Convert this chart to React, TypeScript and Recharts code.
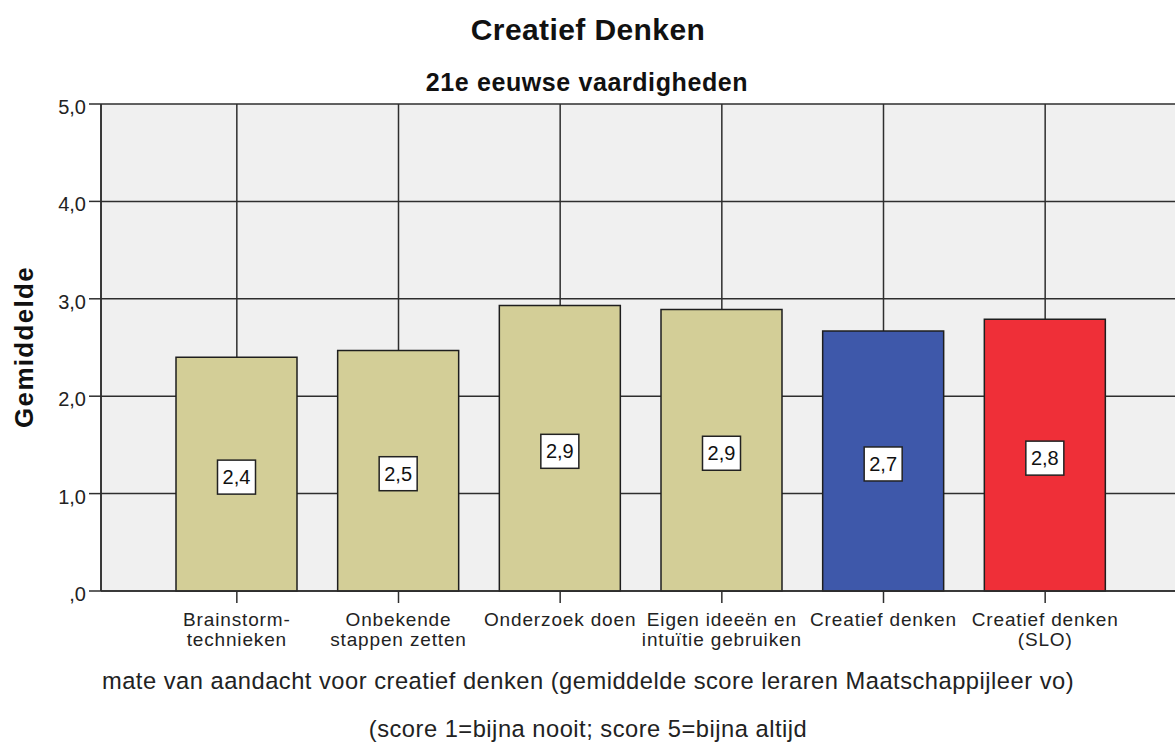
import React from 'react';
import { BarChart, Bar, Cell, XAxis, YAxis, CartesianGrid, LabelList } from 'recharts';

const categories = [
  'Brainstorm-technieken',
  'Onbekende stappen zetten',
  'Onderzoek doen',
  'Eigen ideeën en intuïtie gebruiken',
  'Creatief denken',
  'Creatief denken (SLO)',
];
const tickLines = [
  ['Brainstorm-', 'technieken'],
  ['Onbekende', 'stappen zetten'],
  ['Onderzoek doen'],
  ['Eigen ideeën en', 'intuïtie gebruiken'],
  ['Creatief denken'],
  ['Creatief denken', '(SLO)'],
];
const means = [2.4, 2.47, 2.93, 2.89, 2.67, 2.79];
const barColors = ['#d3ce97', '#d3ce97', '#d3ce97', '#d3ce97', '#3e58aa', '#ef2f38'];
const yTicks = [0, 1, 2, 3, 4, 5];
const yTickLabels = [',0', '1,0', '2,0', '3,0', '4,0', '5,0'];

const FONT = '"Liberation Sans", Arial, sans-serif';
const LINE = '#2e2e2e';

const data = categories.map((name, i) => ({ name, value: means[i] }));

const fmt = (v: number) => v.toFixed(1).replace('.', ',');

const XTick = (props: any) => {
  const { x, y, payload } = props;
  const idx = categories.indexOf(payload.value);
  const lines = tickLines[idx] || [payload.value];
  return (
    <g transform={`translate(${x},${y})`}>
      {lines.map((l, i) => (
        <text key={i} x={0} y={21 + i * 19.5} textAnchor="middle" fontSize={19}
          letterSpacing={0.85} fill="#222" fontFamily={FONT}>{l}</text>
      ))}
    </g>
  );
};

const YTick = (props: any) => {
  const { x, y, payload } = props;
  const idx = yTicks.indexOf(payload.value);
  return (
    <text x={x} y={y + 10} textAnchor="end" fontSize={20} fill="#222" fontFamily={FONT}>
      {yTickLabels[idx]}
    </text>
  );
};

const ValueBox = (props: any) => {
  const { x, y, width, height, value } = props;
  const cx = x + width / 2;
  const cy = y + height / 2 + 3;
  return (
    <g>
      <rect x={cx - 19} y={cy - 17} width={38} height={34} fill="#fff" stroke="#222" strokeWidth={1.5} />
      <text x={cx} y={cy + 7} textAnchor="middle" fontSize={20} fill="#111" fontFamily={FONT}>{fmt(value)}</text>
    </g>
  );
};

export default function App() {
  return (
    <div style={{ position: 'absolute', left: 0, top: 0, width: 1175, height: 744, overflow: 'hidden', background: '#fff' }}>
      <BarChart width={1200} height={744} data={data}
        margin={{ top: 104, right: 19, left: 41, bottom: 93 }}>
        <CartesianGrid stroke={LINE} strokeWidth={1.5} fill="#f0f0f0" fillOpacity={1} />
        <XAxis dataKey="name" padding={{ left: 55, right: 55 }} height={60} interval={0}
          tick={<XTick />} tickSize={12} tickLine={{ stroke: LINE, strokeWidth: 1.5 }}
          axisLine={{ stroke: LINE, strokeWidth: 1.5 }} />
        <YAxis width={60} domain={[0, 5]} ticks={yTicks} interval={0} tick={<YTick />}
          tickSize={12} tickMargin={3} tickLine={{ stroke: LINE, strokeWidth: 1.5 }}
          axisLine={{ stroke: LINE, strokeWidth: 1.5 }} />
        <Bar dataKey="value" barSize={121} stroke="#1e1e1e" strokeWidth={1.5} isAnimationActive={false}>
          {data.map((d, i) => <Cell key={d.name} fill={barColors[i]} />)}
          <LabelList dataKey="value" content={<ValueBox />} />
        </Bar>
      </BarChart>
      <svg width={1175} height={744} style={{ position: 'absolute', left: 0, top: 0, pointerEvents: 'none' }}
        fontFamily={FONT}>
        <text x={588} y={40} textAnchor="middle" fontSize={30} fontWeight="bold" letterSpacing={0.4} fill="#111">
          Creatief Denken
        </text>
        <text x={587} y={91} textAnchor="middle" fontSize={25} fontWeight="bold" letterSpacing={0.6} fill="#111">
          21e eeuwse vaardigheden
        </text>
        <text transform="translate(33,347) rotate(-90)" textAnchor="middle" fontSize={26} fontWeight="bold"
          letterSpacing={1.3} fill="#111">
          Gemiddelde
        </text>
        <text x={588} y={689} textAnchor="middle" fontSize={23.7} letterSpacing={0.5} fill="#222">
          mate van aandacht voor creatief denken (gemiddelde score leraren Maatschappijleer vo)
        </text>
        <text x={588} y={737} textAnchor="middle" fontSize={23.7} letterSpacing={0.5} fill="#222">
          (score 1=bijna nooit; score 5=bijna altijd
        </text>
      </svg>
    </div>
  );
}
